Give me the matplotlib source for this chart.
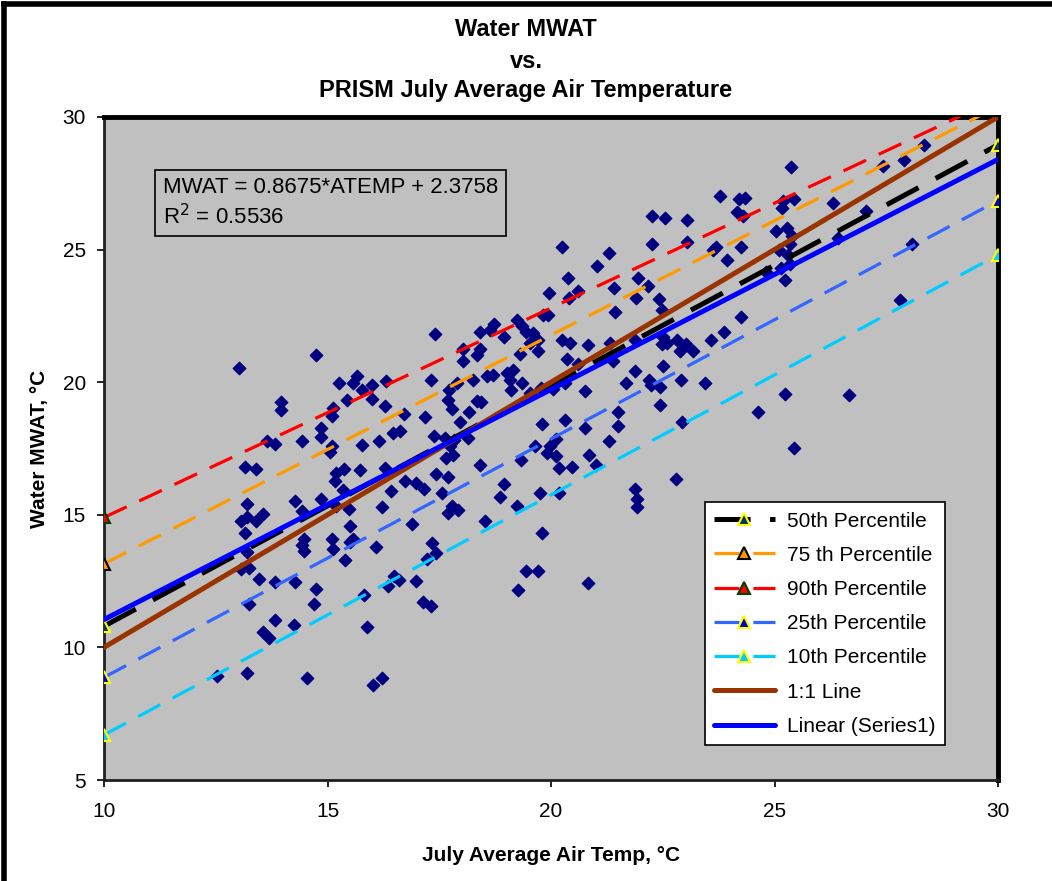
import matplotlib
matplotlib.use('Agg')
import matplotlib.pyplot as plt
from matplotlib.lines import Line2D

plt.rcParams['font.family'] = ['Liberation Sans', 'DejaVu Sans']
plt.rcParams['lines.scale_dashes'] = False

# PRISM July air temperature (x) vs water MWAT (y)
air_temp = [
    14.74, 13.01, 13.97, 13.97, 13.65, 13.82, 14.43, 14.85, 14.85, 13.16, 13.40, 13.21, 14.28,
    14.43, 14.85, 13.06, 13.21, 13.55, 13.40, 13.16, 14.47, 14.43, 14.47, 13.21, 13.06, 13.25,
    13.47, 13.82, 14.28, 14.74, 14.70, 13.25, 13.82, 14.24, 13.55, 13.70, 12.52, 13.21, 14.55,
    18.04, 18.41, 18.04, 18.34, 15.26, 15.67, 15.58, 15.77, 15.99, 16.31, 15.99, 15.43, 15.13,
    15.10, 16.28, 16.72, 17.31, 17.19, 17.71, 17.89, 17.70, 17.79, 18.16, 17.96, 18.34, 18.44,
    18.26, 18.56, 18.71, 19.01, 19.08, 19.16, 19.10, 16.46, 16.62, 15.77, 16.16, 15.10, 15.06,
    17.38, 17.62, 17.82, 17.75, 18.14, 17.66, 17.81, 18.41, 15.20, 15.38, 15.16, 15.73, 16.28,
    15.35, 15.20, 15.47, 16.43, 16.74, 16.99, 17.16, 17.43, 17.70, 17.57, 16.23, 17.79, 17.93,
    17.70, 18.95, 18.87, 19.24, 18.53, 15.50, 15.11, 15.13, 15.58, 15.50, 16.08, 16.89, 15.40,
    17.34, 17.43, 17.23, 16.49, 16.60, 16.35, 16.97, 15.82, 17.14, 17.31, 15.89, 16.01, 16.23,
    19.27, 17.41, 18.41, 18.72, 18.64, 18.95,
    22.25, 22.56, 23.05, 20.25, 22.25, 23.05, 23.62, 23.70, 21.29, 21.02, 20.38, 19.95, 20.41,
    20.60, 21.42, 21.95, 22.18, 21.90, 22.41, 22.48, 21.44, 19.83, 19.93, 19.23, 19.35, 19.45,
    19.60, 19.72, 19.54, 19.72, 19.30, 20.25, 20.43, 20.83, 21.32, 21.87, 22.51, 22.59, 22.48,
    22.81, 22.89, 23.03, 23.18, 23.58, 21.39, 20.35, 20.60, 19.36, 19.78, 20.05, 20.32, 19.53,
    20.77, 21.87, 21.68, 22.20, 22.23, 22.44, 22.51, 22.90, 23.44, 22.44, 21.51, 21.51, 20.75,
    20.32, 19.80, 21.29, 20.12, 19.98, 19.90, 20.12, 19.65, 19.33, 20.86, 21.00, 20.48, 20.18,
    19.75, 20.17, 21.87, 21.93, 21.93, 22.80, 22.94, 19.80, 19.45, 19.72, 20.83,
    28.34, 27.42, 27.90, 25.36, 23.78, 24.21, 24.33, 24.15, 24.29, 25.20, 25.44, 25.17, 26.31,
    27.05, 25.03, 25.29, 25.39, 25.35, 25.09, 25.31, 25.35, 25.15, 24.82, 25.24, 24.24, 23.94,
    26.42, 28.07, 27.81, 24.24, 23.86, 25.24, 24.63, 26.66, 25.44,
]
water_mwat = [
    21.03, 20.54, 19.26, 18.96, 17.80, 17.68, 17.77, 18.29, 17.93, 16.81, 16.74, 15.41, 15.52,
    15.15, 15.59, 14.77, 14.90, 15.02, 14.75, 14.31, 14.08, 13.87, 13.65, 13.58, 12.96, 13.01,
    12.58, 12.46, 12.45, 12.21, 11.62, 11.62, 11.04, 10.86, 10.58, 10.37, 8.93, 9.05, 8.85,
    21.24, 21.24, 20.79, 21.04, 19.97, 20.22, 19.97, 19.69, 19.90, 20.03, 19.37, 19.31, 19.03,
    18.74, 19.11, 18.81, 20.09, 18.68, 19.71, 19.97, 19.34, 18.99, 18.87, 18.49, 19.28, 19.26,
    20.09, 20.22, 20.28, 20.34, 20.09, 20.47, 19.71, 18.09, 18.15, 17.64, 17.78, 17.59, 17.36,
    17.96, 17.90, 17.82, 17.59, 17.90, 17.15, 17.24, 16.89, 16.59, 16.71, 16.29, 16.69, 16.78,
    15.93, 15.34, 15.21, 15.90, 16.27, 16.19, 15.96, 16.52, 16.44, 15.81, 15.28, 15.33, 15.19,
    15.06, 16.15, 15.66, 15.34, 14.76, 14.56, 14.08, 13.71, 14.08, 13.96, 13.78, 14.64, 13.29,
    13.93, 13.56, 13.33, 12.69, 12.54, 12.33, 12.51, 11.98, 11.71, 11.56, 10.78, 8.60, 8.85,
    12.18, 21.82, 21.89, 22.19, 21.97, 21.69,
    26.27, 26.20, 26.12, 25.09, 25.22, 25.28, 24.97, 25.09, 24.89, 24.39, 23.93, 23.37, 23.16,
    23.44, 23.54, 23.93, 23.62, 23.17, 23.12, 22.72, 22.66, 22.53, 22.53, 22.34, 22.12, 21.90,
    21.85, 21.59, 21.47, 21.19, 21.07, 21.59, 21.49, 21.40, 21.47, 21.59, 21.72, 21.47, 21.44,
    21.59, 21.19, 21.44, 21.19, 21.59, 20.79, 20.87, 20.67, 19.97, 19.79, 19.74, 19.97, 19.59,
    19.65, 20.42, 19.97, 20.09, 19.89, 19.82, 20.62, 20.09, 19.97, 19.14, 18.87, 18.34, 18.29,
    18.57, 18.43, 17.79, 17.84, 17.59, 17.34, 17.22, 17.59, 17.05, 17.27, 16.86, 16.81, 16.76,
    15.84, 15.84, 15.99, 15.61, 15.28, 16.36, 18.49, 14.31, 12.88, 12.88, 12.43,
    28.95, 28.17, 28.37, 28.12, 27.02, 26.90, 26.95, 26.40, 26.25, 26.85, 26.90, 26.58, 26.77,
    26.45, 25.69, 25.83, 25.53, 25.22, 24.97, 24.78, 24.44, 24.32, 24.14, 23.84, 25.09, 24.59,
    25.45, 25.22, 23.09, 22.47, 21.89, 19.56, 18.87, 19.52, 17.53,
]

# percentile lines: value at 10 and 30 degC
line_x = [10, 30]
p50 = [10.8, 28.95]
p75 = [13.15, 30.4]
p90 = [14.9, 30.7]
p25 = [8.87, 26.85]
p10 = [6.7, 24.8]
one_to_one = [10, 30]
slope, intercept = 0.8675, 2.3758
linear_fit = [slope * v + intercept for v in line_x]

fig = plt.figure(figsize=(10.52, 8.81), dpi=100)
ax = fig.add_axes([104 / 1052, 1 - 780 / 881, 894 / 1052, 663 / 881])
ax.set_facecolor('#C0C0C0')

ax.scatter(air_temp, water_mwat, marker='D', s=40, color='#000080', zorder=3)

ax.plot(line_x, p50, color='black', lw=3.6, dashes=(26, 14), marker='^', ms=8,
        mfc='#003366', mec='yellow', mew=1.5, label='50th Percentile', zorder=4)
ax.plot(line_x, p75, color='#FF9900', lw=2.3, dashes=(18, 10), marker='^', ms=8,
        mfc='#FF9900', mec='black', mew=1.5, label='75 th Percentile', zorder=4)
ax.plot(line_x, p90, color='#FF0000', lw=2.3, dashes=(18, 10), marker='^', ms=8,
        mfc='#FF0000', mec='#004000', mew=1.5, label='90th Percentile', zorder=4)
ax.plot(line_x, p25, color='#3366FF', lw=2.3, dashes=(18, 10), marker='^', ms=8,
        mfc='#0000CC', mec='yellow', mew=1.5, label='25th Percentile', zorder=4)
ax.plot(line_x, p10, color='#00CCFF', lw=2.3, dashes=(18, 10), marker='^', ms=8,
        mfc='#00CCFF', mec='yellow', mew=1.5, label='10th Percentile', zorder=4)
ax.plot(line_x, one_to_one, color='#993300', lw=3.6, solid_capstyle='round',
        label='1:1 Line', zorder=4)
ax.plot(line_x, linear_fit, color='#0000FF', lw=3.6, solid_capstyle='round',
        label='Linear (Series1)', zorder=5)

ax.set_xlim(10, 30)
ax.set_ylim(5, 30)
ax.set_xticks([10, 15, 20, 25, 30])
ax.set_yticks([5, 10, 15, 20, 25, 30])
ax.tick_params(direction='out', length=5, width=1.2, labelsize=15, pad=8)
ax.tick_params(axis='x', pad=11)
for side in ['top', 'right']:
    ax.spines[side].set_linewidth(3.5)
for side in ['left', 'bottom']:
    ax.spines[side].set_linewidth(2)
    ax.spines[side].set_color('#202020')

ax.set_xlabel('July Average Air Temp, °C', fontsize=15, fontweight='bold', labelpad=18)
ax.set_ylabel('Water MWAT, °C', fontsize=15, fontweight='bold', labelpad=10)
fig.text(0.5, 1 - 29 / 881, 'Water MWAT', ha='center', va='center', fontsize=17, fontweight='bold')
fig.text(0.5, 1 - 61 / 881, 'vs.', ha='center', va='center', fontsize=17, fontweight='bold')
fig.text(0.5, 1 - 90 / 881, 'PRISM July Average Air Temperature', ha='center', va='center',
         fontsize=17, fontweight='bold')

ax.text(11.31, 27.72, 'MWAT = 0.8675*ATEMP + 2.3758\nR$^2$ = 0.5536', fontsize=16,
        va='top', ha='left', linespacing=1.25,
        bbox=dict(boxstyle='square,pad=0.35', fc='#C0C0C0', ec='black', lw=1.2))

leg = ax.legend(loc='upper left', bbox_to_anchor=(0.672, 0.419), fontsize=15, frameon=True,
                fancybox=False, framealpha=1, edgecolor='black', borderaxespad=0,
                handlelength=2.9, handletextpad=0.6, labelspacing=0.73, borderpad=0.45)
leg.get_frame().set_linewidth(1.2)

# outer chart frame (top and left visible)
fig.add_artist(Line2D([0.004, 1], [0.996, 0.996], transform=fig.transFigure, color='black', lw=4))
fig.add_artist(Line2D([0.004, 0.004], [0, 0.996], transform=fig.transFigure, color='black', lw=4))

fig.savefig('out.png', dpi=100)
